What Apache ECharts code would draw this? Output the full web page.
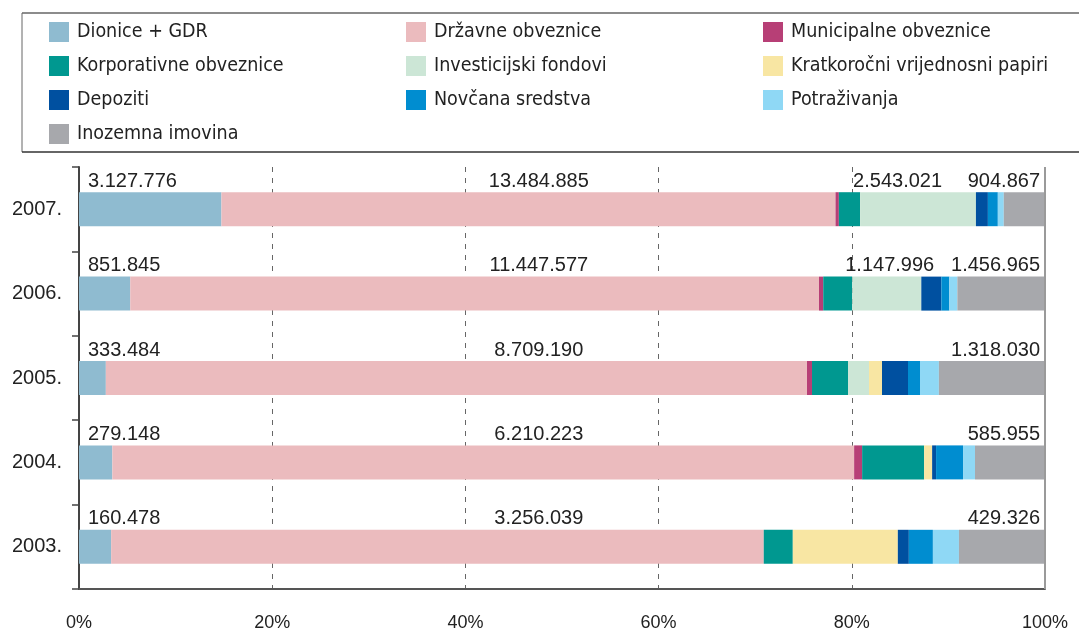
<!DOCTYPE html>
<html>
<head>
<meta charset="utf-8">
<script src="https://cdn.jsdelivr.net/npm/echarts@6/dist/echarts.min.js"></script>
<style>
    html, body { margin: 0; padding: 0; background: #fff; }
    #chart { width: 1079px; height: 632px; }
</style>
</head>
<body>
<div id="chart"></div>
<script>
// godine (odozdo prema gore)
const years = ['2003.', '2004.', '2005.', '2006.', '2007.']
const xTicks = [0, 20, 40, 60, 80, 100]

// iznosi po vrstama imovine (procjena tamo gdje nema oznake)
const dionice = [160478, 279148, 333484, 851845, 3127776]
const drzavne = [3256039, 6210223, 8709190, 11447577, 13484885]
const municipalne = [0, 67000, 62500, 70700, 74000]
const korporativne = [145000, 519000, 447000, 482000, 466500]
const investicijski = [0, 0, 261000, 1147996, 2543021]
const kratkorocni = [524000, 67000, 161000, 0, 0]
const depoziti = [55000, 33000, 323000, 333000, 263000]
const novcana = [120000, 226000, 149000, 133000, 218000]
const potrazivanja = [130000, 100000, 235000, 133000, 131000]
const inozemna = [429326, 585955, 1318030, 1456965, 904867]

// godine kod kojih se ispisuje iznos investicijskih fondova
const investLabelYears = ['2006.', '2007.']

const names = ['Dionice + GDR', 'Državne obveznice', 'Municipalne obveznice', 'Korporativne obveznice',
    'Investicijski fondovi', 'Kratkoročni vrijednosni papiri', 'Depoziti', 'Novčana sredstva',
    'Potraživanja', 'Inozemna imovina']
const colors = ['#8fbbd0', '#ebbbbe', '#b73f76', '#009890', '#cce6d6', '#f8e6a3', '#0050a0', '#008dd0', '#8fd8f5', '#a7a8ac']
const values = [dionice, drzavne, municipalne, korporativne, investicijski, kratkorocni, depoziti, novcana, potrazivanja, inozemna]

const totals = years.map((y, i) => values.reduce((s, arr) => s + arr[i], 0))
const fmt = v => String(v).replace(/\B(?=(\d{3})+(?!\d))/g, '.')

const labelFont = { fontSize: 20, color: '#222', fontFamily: "'Liberation Sans', Arial, sans-serif" }

let mycharts = echarts.init(document.getElementById('chart'))

const series = values.map((arr, k) => {
    const s = {
        name: names[k],
        type: 'bar',
        stack: 'total',
        barWidth: 34,
        itemStyle: { color: colors[k] },
        data: arr.map((v, i) => v / totals[i] * 100)
    }
    if (k === 0) {
        s.label = Object.assign({ show: true, position: [9, -1], align: 'left', verticalAlign: 'bottom',
            formatter: p => fmt(dionice[p.dataIndex]) }, labelFont)
    }
    if (k === 4) {
        s.label = Object.assign({ show: true, position: [-7, -1], align: 'left', verticalAlign: 'bottom',
            formatter: p => investLabelYears.includes(years[p.dataIndex]) ? fmt(investicijski[p.dataIndex]) : '' }, labelFont)
    }
    if (k === 9) {
        s.label = Object.assign({ show: true, position: ['100%', -1], offset: [-5, 0], align: 'right', verticalAlign: 'bottom',
            formatter: p => fmt(inozemna[p.dataIndex]) }, labelFont)
    }
    return s
})

// oznake državnih obveznica (iznad trake, oko sredine)
series.push({
    type: 'scatter',
    symbolSize: 0,
    silent: true,
    z: 5,
    itemStyle: { opacity: 1 },
    data: years.map((y, i) => [47.6, i]),
    label: Object.assign({ show: true, position: 'top', distance: 18,
        formatter: p => fmt(drzavne[p.dataIndex]) }, labelFont),
    markLine: {
        silent: true,
        symbol: 'none',
        label: { show: false },
        lineStyle: { color: '#9a9a9a', width: 2, type: 'solid' },
        data: [{ xAxis: 100 }]
    }
})

mycharts.setOption({
    animation: false,
    legend: {
        data: names,
        left: 49,
        top: 22,
        padding: 0,
        width: 1070,
        itemGap: 14,
        itemWidth: 20,
        itemHeight: 20,
        icon: 'rect',
        selectedMode: false,
        textStyle: {
            fontSize: 19.5,
            color: '#222',
            fontFamily: "'DejaVu Sans Condensed', 'Liberation Sans', sans-serif",
            lineHeight: 20,
            height: 20,
            width: 315,
            padding: [0, 0, 0, 3]
        }
    },
    graphic: [
        { type: 'line', shape: { x1: 22, y1: 13, x2: 1079, y2: 13 }, style: { stroke: '#8c8c8c', lineWidth: 2 } },
        { type: 'line', shape: { x1: 22, y1: 13, x2: 22, y2: 152 }, style: { stroke: '#666', lineWidth: 1 } },
        { type: 'line', shape: { x1: 22, y1: 152, x2: 1079, y2: 152 }, style: { stroke: '#333', lineWidth: 1.5 } }
    ],
    grid: {
        left: 79,
        right: 34,
        top: 167,
        bottom: 43
    },
    xAxis: {
        type: 'value',
        min: xTicks[0],
        max: xTicks[xTicks.length - 1],
        interval: 20,
        axisLine: { show: true, lineStyle: { color: '#555', width: 2 } },
        axisTick: { show: false },
        splitLine: { show: true, lineStyle: { color: '#666', width: 1, type: [5, 6] } },
        axisLabel: { formatter: '{value}%', fontSize: 18, color: '#222', margin: 25,
            fontFamily: "'Liberation Sans', Arial, sans-serif" }
    },
    yAxis: {
        type: 'category',
        data: years,
        axisLine: { show: true, lineStyle: { color: '#444', width: 2 } },
        axisTick: { show: true, length: 7, lineStyle: { color: '#444', width: 1.5 } },
        axisLabel: Object.assign({ margin: 17 }, labelFont)
    },
    series: series
})
</script>
</body>
</html>
